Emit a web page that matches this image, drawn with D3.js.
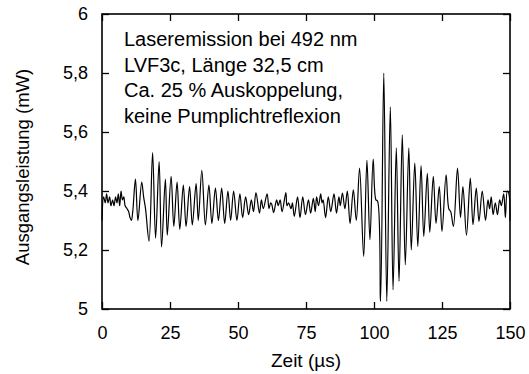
<!DOCTYPE html>
<html>
<head>
<meta charset="utf-8">
<script src="https://cdn.jsdelivr.net/npm/d3@7"></script>
<style>
    body { margin: 0; background: #fff; }
    svg { font-family: "Liberation Sans", Arial, sans-serif; }
</style>
</head>
<body>
<div id="chart"></div>
<script>
// time (µs) and output power (mW) at the turning points
const timeUs = [0, 0.6, 1.2, 1.7, 2.2, 2.8, 3.3, 3.9, 4.4, 5.0, 5.5, 6.0, 6.5, 7.0, 7.5, 8.0, 8.5, 9.2, 9.8, 10.3, 10.8, 11.3,
    12.3, 13.2, 14.6, 15.3, 16.0, 17.3, 18.6, 19.7, 21.0, 21.9, 23.3, 24.0, 25.4, 26.4, 27.6, 28.6, 29.9, 30.9, 32.2, 33.2,
    34.6, 35.4, 36.7, 38.0, 39.3, 40.4, 41.7, 42.8, 44.0, 45.1, 46.3, 47.3, 48.4, 49.6, 50.7, 51.7, 52.8, 53.9, 54.9, 55.7,
    56.6, 57.9, 58.6, 59.3, 60.7, 61.4, 62.0, 62.4, 63.1, 64.2, 64.8, 65.5, 66.2, 67.6, 68.0, 68.6, 69.5, 70.0, 70.7, 71.9,
    72.8, 73.8, 74.8, 75.9, 76.7, 77.7, 78.4, 78.9, 79.6, 80.4, 80.9, 81.3, 82.2, 83.2, 84.1, 85.3, 86.2, 87.1, 87.6, 88.4,
    89.3, 90.2, 91.2, 92.4, 93.5, 94.7, 96.2, 97.4, 98.5, 99.7, 100.7, 101.3, 102.4, 103.6, 104.7, 106.0, 107.0, 108.2,
    109.2, 110.4, 111.5, 112.8, 113.7, 115.0, 116.1, 117.3, 118.3, 119.6, 120.5, 121.8, 122.8, 124.0, 125.0, 126.5, 127.5,
    128.2, 129.2, 130.7, 131.8, 132.7, 134.0, 135.4, 136.4, 137.6, 138.6, 139.8, 141.0, 141.9, 142.5, 143.1, 143.8, 144.6,
    145.4, 146.2, 146.8, 147.7, 148.3, 149.0, 149.6, 150];
const powerMw = [5.30, 5.38, 5.36, 5.39, 5.36, 5.38, 5.35, 5.37, 5.35, 5.38, 5.36, 5.39, 5.35, 5.40, 5.37, 5.38, 5.35, 5.34, 5.33, 5.31, 5.30, 5.33,
    5.44, 5.30, 5.43, 5.38, 5.34, 5.23, 5.53, 5.24, 5.50, 5.21, 5.44, 5.25, 5.45, 5.28, 5.43, 5.27, 5.42, 5.28, 5.415, 5.285,
    5.425, 5.30, 5.47, 5.285, 5.42, 5.29, 5.41, 5.30, 5.41, 5.29, 5.40, 5.30, 5.40, 5.30, 5.39, 5.31, 5.38, 5.32, 5.37, 5.33,
    5.395, 5.325, 5.37, 5.34, 5.39, 5.34, 5.36, 5.355, 5.327, 5.37, 5.35, 5.37, 5.33, 5.395, 5.35, 5.36, 5.34, 5.36, 5.314, 5.38,
    5.31, 5.38, 5.32, 5.37, 5.325, 5.375, 5.33, 5.38, 5.35, 5.39, 5.36, 5.37, 5.31, 5.38, 5.33, 5.39, 5.325, 5.38, 5.35, 5.393,
    5.34, 5.40, 5.29, 5.404, 5.30, 5.478, 5.178, 5.504, 5.235, 5.508, 5.37, 5.366, 5.026, 5.80, 5.026, 5.685, 5.065, 5.546,
    5.094, 5.59, 5.15, 5.546, 5.20, 5.495, 5.212, 5.486, 5.246, 5.46, 5.26, 5.45, 5.29, 5.415, 5.263, 5.455, 5.34,
    5.33, 5.28, 5.478, 5.31, 5.415, 5.25, 5.444, 5.286, 5.41, 5.297, 5.40, 5.30, 5.37, 5.34, 5.38, 5.32, 5.36,
    5.32, 5.37, 5.35, 5.39, 5.31, 5.40, 5.39, 5.30];

const xTicks = [0, 25, 50, 75, 100, 125, 150];
const yTicks = [5, 5.2, 5.4, 5.6, 5.8, 6];
const noteLines = ["Laseremission bei 492 nm", "LVF3c, Länge 32,5 cm", "Ca. 25 % Auskoppelung,", "keine Pumplichtreflexion"];

const width = 529, height = 374;
const margin = {top: 14, right: 19, bottom: 65, left: 102};
const fontSize = 18;

const de = d3.formatLocale({decimal: ",", thousands: ".", grouping: [3], currency: ["", " €"]});
const fmtY = v => de.format("~g")(v);

const svg = d3.select("#chart")
    .append("svg")
    .attr("width", width)
    .attr("height", height)

const x = d3.scaleLinear().domain([0, 150]).range([margin.left, width - margin.right]);
const y = d3.scaleLinear().domain([5, 6]).range([height - margin.bottom, margin.top]);

const tickLen = 7;

// bottom + top axes, ticks pointing inwards
svg.append("g")
    .attr("transform", "translate(0," + y(5) + ")")
    .call(d3.axisBottom(x).tickValues(xTicks).tickSizeInner(-tickLen).tickSizeOuter(0).tickPadding(17))
    .call(g => g.select(".domain").remove())
    .call(g => g.selectAll("text").attr("font-size", fontSize).attr("fill", "#000").attr("font-family", null));

svg.append("g")
    .attr("transform", "translate(0," + y(6) + ")")
    .call(d3.axisTop(x).tickValues(xTicks).tickSizeInner(-tickLen).tickSizeOuter(0).tickFormat(""))
    .call(g => g.select(".domain").remove());

svg.append("g")
    .attr("transform", "translate(" + x(0) + ",0)")
    .call(d3.axisLeft(y).tickValues(yTicks).tickFormat(fmtY).tickSizeInner(-tickLen).tickSizeOuter(0).tickPadding(14))
    .call(g => g.select(".domain").remove())
    .call(g => g.selectAll("text").attr("font-size", fontSize).attr("fill", "#000").attr("font-family", null));

svg.append("g")
    .attr("transform", "translate(" + x(150) + ",0)")
    .call(d3.axisRight(y).tickValues(yTicks).tickSizeInner(-tickLen).tickSizeOuter(0).tickFormat(""))
    .call(g => g.select(".domain").remove());

svg.selectAll(".tick line").attr("stroke", "#000").attr("stroke-width", 1.3);

// signal
const pts = timeUs.map((t, i) => [t, powerMw[i]]);
svg.append("path")
    .datum(pts)
    .attr("fill", "none")
    .attr("stroke", "#000")
    .attr("stroke-width", 1.2)
    .attr("stroke-linejoin", "round")
    .attr("d", d3.line().curve(d3.curveCatmullRom.alpha(0.5)).x(d => x(d[0])).y(d => y(d[1])));

// frame
svg.append("rect")
    .attr("x", x(0))
    .attr("y", y(6))
    .attr("width", x(150) - x(0))
    .attr("height", y(5) - y(6))
    .attr("fill", "none")
    .attr("stroke", "#000")
    .attr("stroke-width", 1.6);

// note text
svg.append("g")
    .selectAll("text")
    .data(noteLines)
    .join("text")
    .attr("x", 124)
    .attr("y", (d, i) => 46 + i * 25.5)
    .attr("font-size", 20)
    .text(d => d);

// axis titles
svg.append("text")
    .attr("x", (x(0) + x(150)) / 2)
    .attr("y", 367)
    .attr("text-anchor", "middle")
    .attr("font-size", 19)
    .text("Zeit (µs)");

svg.append("text")
    .attr("transform", "translate(29," + 167 + ") rotate(-90)")
    .attr("text-anchor", "middle")
    .attr("font-size", 18.5)
    .text("Ausgangsleistung (mW)");
</script>
</body>
</html>
